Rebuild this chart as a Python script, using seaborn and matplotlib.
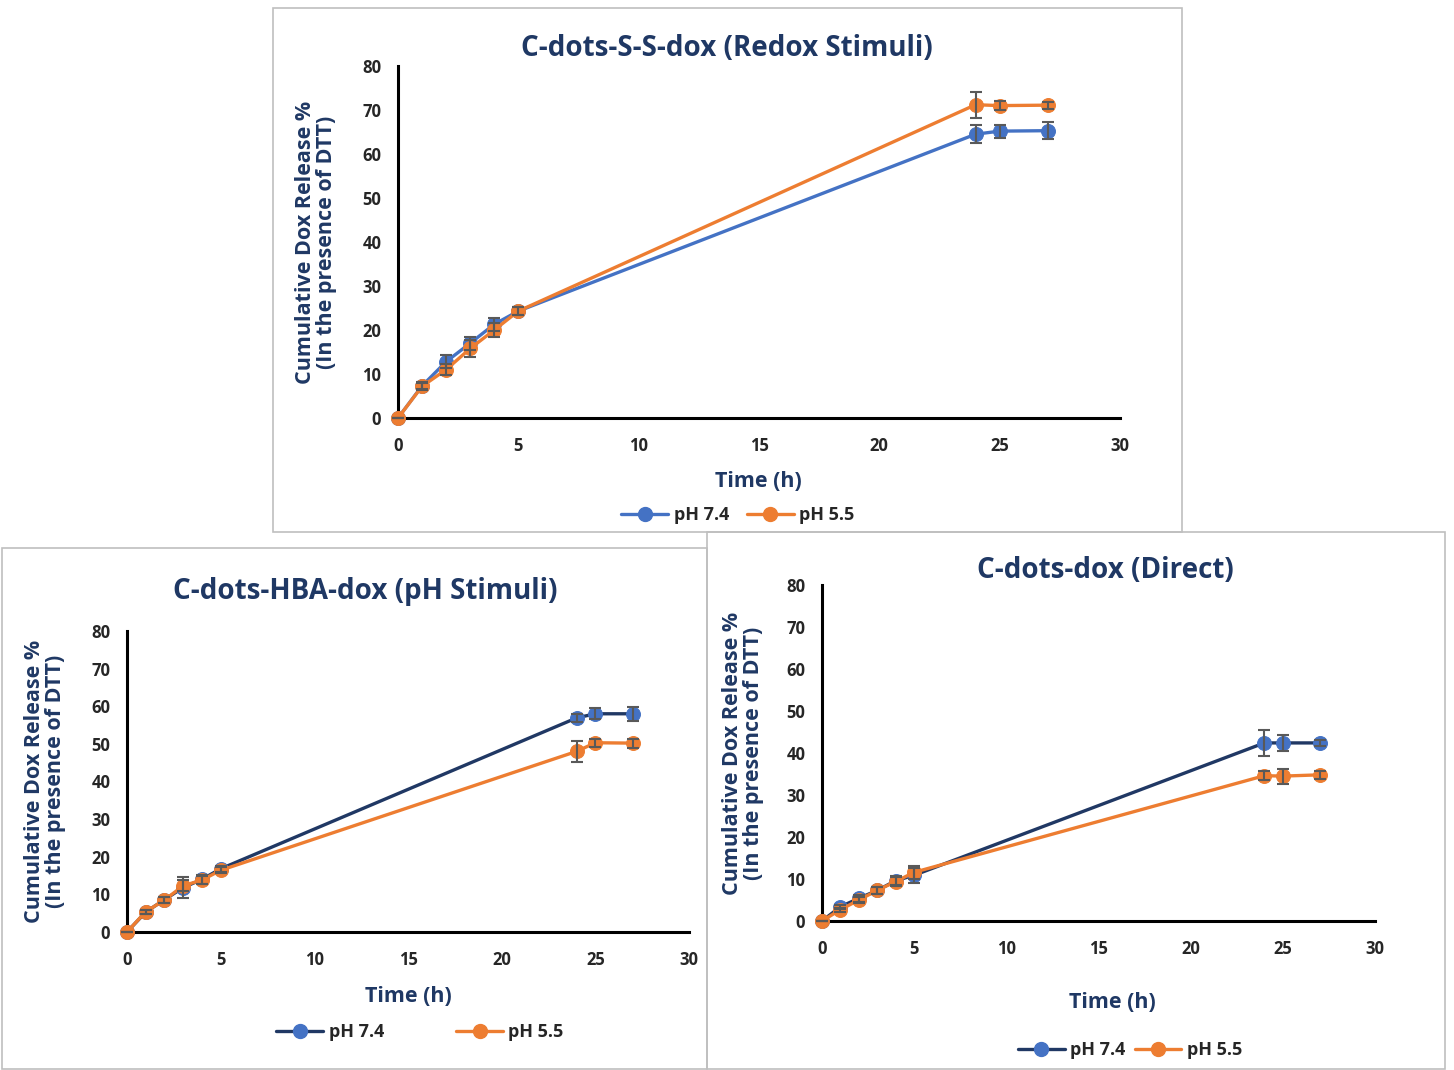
import matplotlib.pyplot as plt
import matplotlib.patches as patches
from matplotlib.lines import Line2D
import seaborn as sns

# time points (h)
time_h = [0, 1, 2, 3, 4, 5, 24, 25, 27]

# C-dots-S-S-dox (Redox Stimuli)
redox_74 = [0, 7.3, 12.8, 17.0, 21.3, 24.3, 64.5, 65.2, 65.3]
redox_74_err = [0, 0.8, 1.5, 1.5, 1.5, 1.0, 2.0, 1.5, 2.0]
redox_55 = [0, 7.2, 11.0, 15.8, 20.0, 24.3, 71.2, 71.0, 71.1]
redox_55_err = [0, 0.8, 1.2, 2.0, 1.5, 1.0, 3.0, 1.0, 0.8]

# C-dots-HBA-dox (pH Stimuli)
hba_74 = [0, 5.3, 8.6, 11.8, 14.0, 16.8, 56.9, 58.0, 58.0]
hba_74_err = [0, 0.5, 0.8, 2.7, 1.2, 0.8, 1.0, 1.5, 1.8]
hba_55 = [0, 5.4, 8.5, 12.3, 13.8, 16.4, 48.0, 50.3, 50.2]
hba_55_err = [0, 0.5, 0.8, 1.5, 1.0, 0.8, 2.8, 1.0, 1.2]

# C-dots-dox (Direct)
direct_74 = [0, 3.4, 5.4, 7.3, 9.6, 10.9, 42.4, 42.4, 42.4]
direct_74_err = [0, 0.5, 0.8, 0.8, 1.0, 1.8, 3.0, 2.0, 0.8]
direct_55 = [0, 2.7, 5.0, 7.3, 9.4, 11.6, 34.6, 34.5, 34.8]
direct_55_err = [0, 0.5, 0.8, 0.8, 1.0, 1.5, 1.0, 1.8, 1.0]

titles = ['C-dots-S-S-dox (Redox Stimuli)', 'C-dots-HBA-dox (pH Stimuli)', 'C-dots-dox (Direct)']
labels = ['pH 7.4', 'pH 5.5']

sns.set_style('white')
plt.rcParams['font.family'] = ['Open Sans', 'DejaVu Sans']

navy = '#1F3864'
blue = '#4472C4'
dark_line = '#203864'
orange = '#ED7D31'

W, H = 1454, 1070
fig = plt.figure(figsize=(W / 100, H / 100), dpi=100)


def px(x0, y0, x1, y1):
    # pixel box -> figure fraction [left, bottom, width, height]
    return [x0 / W, 1 - y1 / H, (x1 - x0) / W, (y1 - y0) / H]


# panel frames
for (x0, y0, x1, y1) in [(273, 8, 1182, 532), (2, 548, 707, 1069), (707, 532, 1445, 1069)]:
    fig.patches.append(patches.Rectangle((x0 / W, 1 - y1 / H), (x1 - x0) / W, (y1 - y0) / H,
                                         transform=fig.transFigure, fill=False,
                                         edgecolor='#BFBFBF', linewidth=1.2))

panels = [
    dict(box=(398, 66, 1120, 418), s1=(redox_74, redox_74_err), s2=(redox_55, redox_55_err),
         line1=blue, title_xy=(727, 48), ylab_x=316, xlab=(758, 481), leg_y=515, leg_x=738, leg_gap=1.0),
    dict(box=(127, 631, 689, 932), s1=(hba_74, hba_74_err), s2=(hba_55, hba_55_err),
         line1=dark_line, title_xy=(365, 591), ylab_x=45, xlab=(408, 996), leg_y=1032, leg_x=420, leg_gap=4.0),
    dict(box=(822, 585, 1375, 921), s1=(direct_74, direct_74_err), s2=(direct_55, direct_55_err),
         line1=dark_line, title_xy=(1105, 570), ylab_x=743, xlab=(1112, 1002), leg_y=1050, leg_x=1130, leg_gap=0.5),
]

for p, title in zip(panels, titles):
    ax = fig.add_axes(px(*p['box']))
    for (vals, err), lc, mc in [(p['s1'], p['line1'], blue), (p['s2'], orange, orange)]:
        sns.lineplot(x=time_h, y=vals, ax=ax, color=lc, linewidth=2.4, marker='o',
                     markersize=10, markerfacecolor=mc, markeredgecolor=mc, zorder=3)
        ax.errorbar(time_h, vals, yerr=err, fmt='none', ecolor='#595959',
                    elinewidth=1.5, capsize=4, capthick=1.5, zorder=4)
    ax.set_xlim(0, 30)
    ax.set_ylim(0, 80)
    ax.set_xticks(range(0, 31, 5))
    ax.set_yticks(range(0, 81, 10))
    for s in ['top', 'right']:
        ax.spines[s].set_visible(False)
    for s in ['left', 'bottom']:
        ax.spines[s].set_color('black')
        ax.spines[s].set_linewidth(2.2)
    ax.tick_params(axis='x', length=0, labelsize=12, pad=14)
    ax.tick_params(axis='y', length=0, labelsize=12, pad=12)
    for t in ax.get_xticklabels() + ax.get_yticklabels():
        t.set_fontweight('bold')
    for ln in ax.lines:
        ln.set_clip_on(False)
    for c in ax.collections:
        c.set_clip_on(False)

    tx, ty = p['title_xy']
    fig.text(tx / W, 1 - ty / H, title, ha='center', va='center', fontsize=20,
             fontweight='bold', color=navy)
    x0, y0, x1, y1 = p['box']
    fig.text(p['ylab_x'] / W, 1 - ((y0 + y1) / 2) / H,
             'Cumulative Dox Release %\n(In the presence of DTT)', rotation=90,
             ha='center', va='center', fontsize=15.5, fontweight='bold', color=navy,
             linespacing=1.05)
    fig.text(p['xlab'][0] / W, 1 - p['xlab'][1] / H, 'Time (h)', ha='center',
             va='center', fontsize=15.5, fontweight='bold', color=navy)

    handles = [Line2D([], [], color=p['line1'], linewidth=2.4, marker='o', markersize=10,
                      markerfacecolor=blue, markeredgecolor=blue),
               Line2D([], [], color=orange, linewidth=2.4, marker='o', markersize=10,
                      markerfacecolor=orange, markeredgecolor=orange)]
    fig.legend(handles, labels, loc='center', ncol=2,
               bbox_to_anchor=(p['leg_x'] / W, 1 - p['leg_y'] / H), frameon=False,
               prop={'weight': 'bold', 'size': 13}, handlelength=2.6, handletextpad=0.3,
               columnspacing=p['leg_gap'])

fig.savefig('out.png', dpi=100)
